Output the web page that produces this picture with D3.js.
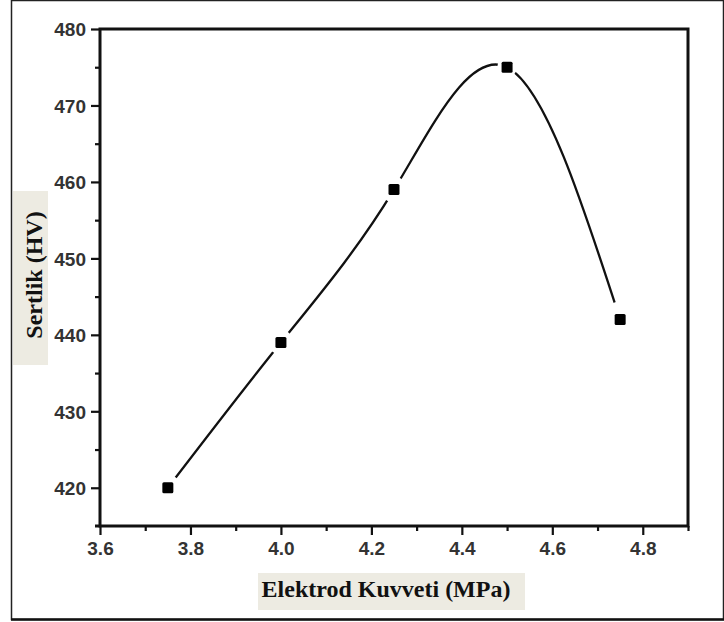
<!DOCTYPE html>
<html>
<head>
<meta charset="utf-8">
<script src="https://cdn.jsdelivr.net/npm/d3@7"></script>
<style>
  body { margin: 0; background: #fff; }
  .tick text { font-family: "Liberation Sans", Arial, sans-serif; font-weight: bold; font-size: 19px; fill: #333; }
  .lbl { font-family: "Liberation Serif", "Times New Roman", serif; font-weight: bold; font-size: 24px; fill: #111; }
</style>
</head>
<body>
<script>
// data
const force = [3.75, 4.0, 4.25, 4.5, 4.75]
const hardness = [420, 439, 459, 475, 442]

const xTicks = [3.6, 3.8, 4.0, 4.2, 4.4, 4.6, 4.8]
const xMinor = [3.7, 3.9, 4.1, 4.3, 4.5, 4.7, 4.9]
const yTicks = [420, 430, 440, 450, 460, 470, 480]
const yMinor = [425, 435, 445, 455, 465, 475]

const W = 724, H = 622
const plot = { left: 100, right: 688, top: 29, bottom: 526 }
const gapR = [13, 12.5, 13, 10, 18] // line gap round each symbol

var svg = d3.select('body').append('svg')
    .attr('width', W)
    .attr('height', H)

// outer border of the figure
svg.append('rect')
    .attr('x', 11.5).attr('y', 0.5)
    .attr('width', W - 12).attr('height', 619)
    .attr('fill', 'none')
    .attr('stroke', '#222')
    .attr('stroke-width', 1.5)
svg.append('line')
    .attr('x1', 11).attr('x2', W).attr('y1', 619.5).attr('y2', 619.5)
    .attr('stroke', '#111').attr('stroke-width', 2.5)

var x = d3.scaleLinear().domain([3.6, 4.9]).range([plot.left, plot.right])
var y = d3.scaleLinear().domain([415, 480]).range([plot.bottom, plot.top])

// axis label boxes
svg.append('rect')
    .attr('x', 13).attr('y', 191).attr('width', 35).attr('height', 174)
    .attr('fill', '#edebe2')
svg.append('rect')
    .attr('x', 258).attr('y', 573).attr('width', 267).attr('height', 37)
    .attr('fill', '#edebe2')

svg.append('text')
    .attr('class', 'lbl')
    .attr('transform', 'translate(42,275) rotate(-90)')
    .attr('text-anchor', 'middle')
    .text('Sertlik (HV)')

svg.append('text')
    .attr('class', 'lbl')
    .attr('x', 386).attr('y', 597)
    .attr('text-anchor', 'middle')
    .text('Elektrod Kuvveti (MPa)')

// minor ticks
svg.append('g')
    .attr('transform', `translate(0,${plot.bottom})`)
    .call(d3.axisBottom(x).tickValues(xMinor).tickSize(5).tickFormat(''))
svg.append('g')
    .attr('transform', `translate(${plot.left},0)`)
    .call(d3.axisLeft(y).tickValues(yMinor).tickSize(5).tickFormat(''))

// major ticks
var xAxis = svg.append('g')
    .attr('transform', `translate(0,${plot.bottom})`)
    .call(d3.axisBottom(x).tickValues(xTicks).tickSize(9).tickPadding(7).tickFormat(d3.format('.1f')))
var yAxis = svg.append('g')
    .attr('transform', `translate(${plot.left},0)`)
    .call(d3.axisLeft(y).tickValues(yTicks).tickSize(9).tickPadding(5).tickFormat(d3.format('d')))

svg.selectAll('.domain').remove()
svg.selectAll('.tick line').attr('stroke', '#111').attr('stroke-width', 2.2)
yAxis.selectAll('.tick text').attr('dy', '0.36em')

// frame
svg.append('rect')
    .attr('x', plot.left).attr('y', plot.top)
    .attr('width', plot.right - plot.left).attr('height', plot.bottom - plot.top)
    .attr('fill', 'none')
    .attr('stroke', '#111')
    .attr('stroke-width', 3)
svg.append('line')
    .attr('x1', plot.left - 5).attr('x2', plot.left)
    .attr('y1', plot.bottom).attr('y2', plot.bottom)
    .attr('stroke', '#111').attr('stroke-width', 3)

var pts = force.map((f, i) => ({ x: f, y: hardness[i] }))

// gap around each symbol, like the origin plot
var mask = svg.append('defs').append('mask').attr('id', 'gap')
mask.append('rect').attr('width', W).attr('height', H).attr('fill', '#fff')
mask.selectAll('circle')
    .data(pts)
    .enter()
    .append('circle')
    .attr('cx', d => x(d.x))
    .attr('cy', d => y(d.y))
    .attr('r', (d, i) => gapR[i])
    .attr('fill', '#000')

var line = d3.line()
    .x(d => x(d.x))
    .y(d => y(d.y))
    .curve(d3.curveNatural)

svg.append('path')
    .datum(pts)
    .attr('d', line)
    .attr('fill', 'none')
    .attr('stroke', '#111')
    .attr('stroke-width', 2.3)
    .attr('mask', 'url(#gap)')

svg.selectAll('.pt')
    .data(pts)
    .enter()
    .append('rect')
    .attr('class', 'pt')
    .attr('x', d => x(d.x) - 5.5)
    .attr('y', d => y(d.y) - 5.5)
    .attr('width', 11)
    .attr('height', 11)
    .attr('rx', 1.5)
    .attr('fill', '#000')
</script>
</body>
</html>
